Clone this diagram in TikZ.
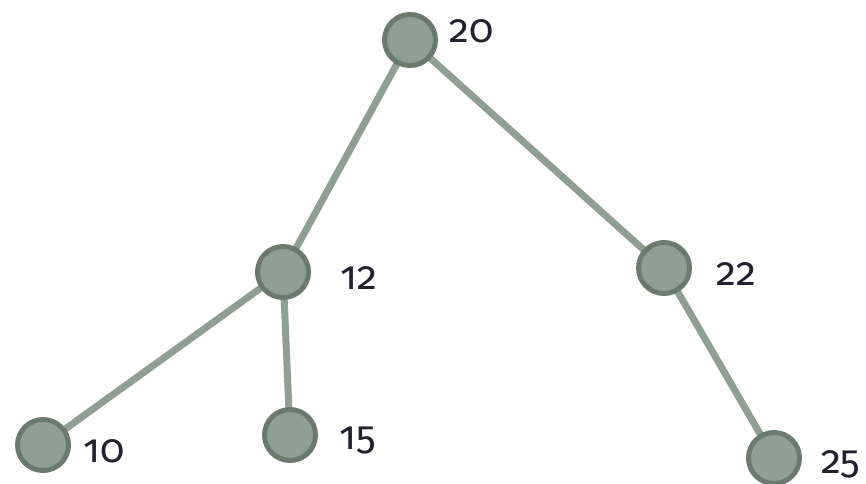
\documentclass[tikz,border=0pt]{standalone}
\usepackage{fontspec}
\setmainfont{Fira Sans}[Numbers=OldStyle]
\usetikzlibrary{backgrounds}
\definecolor{nodefill}{HTML}{8F9F93}
\definecolor{nodeedge}{HTML}{6B7A6E}
\definecolor{edgecol}{HTML}{8F9F93}
\definecolor{txt}{HTML}{22222E}
\tikzset{
  tnode/.style={circle, fill=nodefill, draw=nodeedge, line width=5pt, minimum size=51pt, inner sep=0pt},
  tedge/.style={draw=edgecol, line width=7pt},
  tlabel/.style={anchor=base west, inner sep=0pt, text=txt, font=\fontsize{40}{40}\selectfont}
}
\begin{document}
\begin{tikzpicture}[x=1pt,y=-1pt]
\useasboundingbox (0,0) rectangle (866,483);
\node[tnode] (n20) at (410,40) {};
\node[tnode] (n12) at (283,272) {};
\node[tnode] (n22) at (664,268) {};
\node[tnode] (n10) at (43,445) {};
\node[tnode] (n15) at (290,435) {};
\node[tnode] (n25) at (774,458) {};
\begin{scope}[on background layer]
\path[tedge] (n20.center) -- (n12.center);
\path[tedge] (n20.center) -- (n22.center);
\path[tedge] (n12.center) -- (n10.center);
\path[tedge] (n12.center) -- (n15.center);
\path[tedge] (n22.center) -- (n25.center);
\end{scope}
\node[tlabel] (l20) at (449,42) {20};
\node[tlabel] (l12) at (340,289) {12};
\node[tlabel] (l22) at (716,285) {22};
\node[tlabel] (l10) at (83,462) {10};
\node[tlabel] (l15) at (339,449) {15};
\node[tlabel] (l25) at (821,473) {25};
\end{tikzpicture}
\end{document}
